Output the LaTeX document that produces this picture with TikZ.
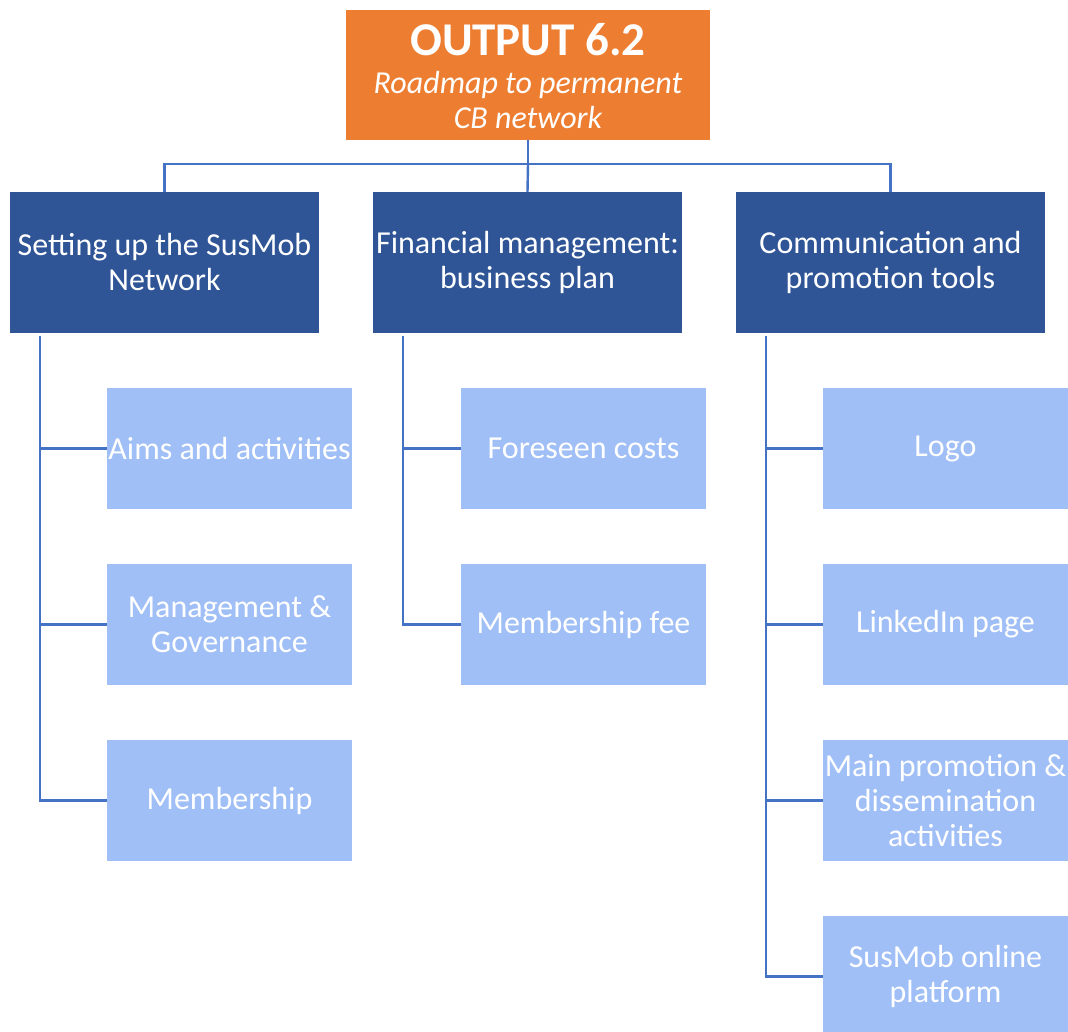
\documentclass[tikz,border=0pt]{standalone}
\usepackage{fontspec}
\setmainfont{Carlito}
\definecolor{outorange}{HTML}{ED7D31}
\definecolor{headblue}{HTML}{2F5597}
\definecolor{itemblue}{HTML}{A0BFF6}
\definecolor{linkblue}{HTML}{4472C4}
\begin{document}
\begin{tikzpicture}[x=1pt,y=-1pt,
  every node/.style={inner sep=0pt, outer sep=0pt, text=white, align=center,
    font=\fontsize{32}{35}\selectfont},
  rootbox/.style={fill=outorange, minimum width=364pt, minimum height=130pt},
  headbox/.style={fill=headblue, minimum width=309pt, minimum height=141pt},
  itembox/.style={fill=itemblue, minimum width=245pt, minimum height=121pt},
  link/.style={draw=linkblue, line width=2.4pt}]
  \clip (0,0) rectangle (1068,1031);
  \fill[white] (0,0) rectangle (1068,1031);

  % root
  \node[rootbox] (root) at (528,75) {};
  \node (roottitle) at (528,40) {\fontsize{47}{47}\selectfont\bfseries OUTPUT 6.2};
  \node (rootsub) at (528,100) {\itshape Roadmap to permanent\\\itshape CB network};

  % headings
  \node[headbox] (h1) at (164.5,262.5) {Setting up the SusMob\\Network};
  \node[headbox] (h2) at (527.5,262.5) {Financial management:\\business plan};
  \node[headbox] (h3) at (890.5,262.5) {Communication and\\promotion tools};

  % items
  \node[itembox] (a1) at (229.5,448.5) {Aims and activities};
  \node[itembox] (a2) at (229.5,624.5) {Management \&\\Governance};
  \node[itembox] (a3) at (229.5,800.5) {Membership};

  \node[itembox] (b1) at (583.5,448.5) {Foreseen costs};
  \node[itembox] (b2) at (583.5,624.5) {Membership fee};

  \node[itembox] (c1) at (945.5,448.5) {Logo};
  \node[itembox] (c2) at (945.5,624.5) {LinkedIn page};
  \node[itembox] (c3) at (945.5,800.5) {Main promotion \&\\dissemination\\activities};
  \node[itembox] (c4) at (945.5,976.5) {SusMob online\\platform};

  % root to headings
  \coordinate (bus) at (528,164);
  \draw[link] (root.south) -- (bus);
  \draw[link] (h1.north) |- (bus) -| (h3.north);
  \draw[link] (bus) -- (h2.north);

  % headings to items
  \coordinate (s1) at ([xshift=-124.5pt,yshift=-3pt]h1.south);
  \coordinate (s2) at ([xshift=-124.5pt,yshift=-3pt]h2.south);
  \coordinate (s3) at ([xshift=-124.5pt,yshift=-3pt]h3.south);
  \draw[link] (s1) |- (a3.west);
  \draw[link] (s1 |- a1.west) -- (a1.west);
  \draw[link] (s1 |- a2.west) -- (a2.west);
  \draw[link] (s2) |- (b2.west);
  \draw[link] (s2 |- b1.west) -- (b1.west);
  \draw[link] (s3) |- (c4.west);
  \draw[link] (s3 |- c1.west) -- (c1.west);
  \draw[link] (s3 |- c2.west) -- (c2.west);
  \draw[link] (s3 |- c3.west) -- (c3.west);
\end{tikzpicture}
\end{document}
